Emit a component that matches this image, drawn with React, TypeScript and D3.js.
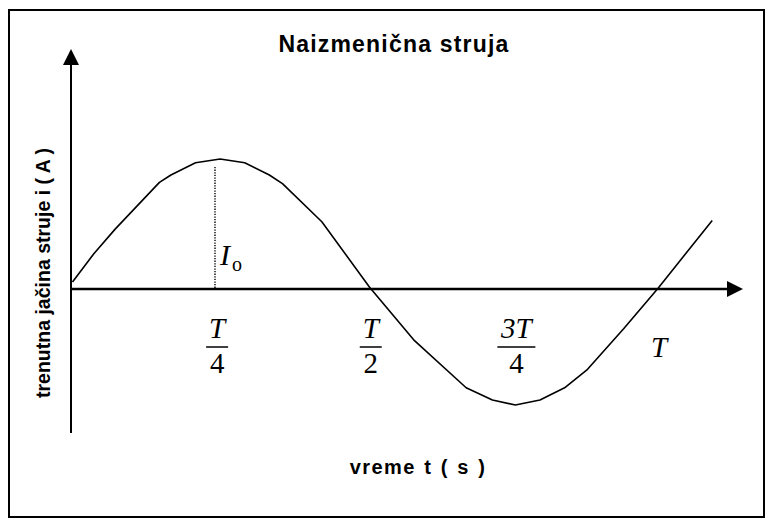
import React from 'react';
import * as d3 from 'd3';

// phase of the current (degrees) and the value, in units of I0
const phaseDeg = [0, 13, 26, 53, 60, 75, 90, 105, 120, 128, 152, 181, 208, 240, 256, 270, 285, 300, 314, 336, 357, 390];
const current = [0, 0.23, 0.43, 0.81, 0.87, 0.97, 1.0, 0.97, 0.87, 0.8, 0.49, -0.04, -0.47, -0.86, -0.96, -1.0, -0.96, -0.86, -0.71, -0.38, -0.05, 0.5];

// tick labels under the time axis (numerator / denominator)
const tickPhase = [90, 180, 270, 360];
const tickNum = ['T', 'T', '3T', 'T'];
const tickDen = ['4', '2', '4', ''];

const title = 'Naizmenična struja';
const xTitle = 'vreme t ( s )';
const yTitle = 'trenutna jačina struje i ( A )';

const W = 773;
const H = 527;
const sans = '"Liberation Sans", Arial, sans-serif';
const serif = '"Liberation Serif", "Times New Roman", serif';

const App = () => {
  const x = d3.scaleLinear().domain([0, 360]).range([72.5, 663]);
  const y = d3.scaleLinear().domain([-1, 1]).range([405, 159]);

  const line = d3
    .line<number>()
    .x((d, i) => x(phaseDeg[i]))
    .y((d) => y(d));

  const axisY = 289;
  const axisX = 71;

  return (
    <svg width={W} height={H} style={{ position: 'absolute', left: 0, top: 0, background: '#fff' }}>
      {/* chart frame */}
      <rect x={9} y={10} width={755} height={507} fill="none" stroke="#000" strokeWidth={2} />

      <text x={394} y={52} textAnchor="middle" fontFamily={sans} fontWeight="bold" fontSize={23} letterSpacing={1.2}>
        {title}
      </text>

      {/* axes with arrows */}
      <line x1={axisX} y1={433} x2={axisX} y2={62} stroke="#000" strokeWidth={2} />
      <path d={`M${axisX - 8},${65} L${axisX},${49} L${axisX + 8},${65} Z`} fill="#000" />
      <line x1={axisX} y1={axisY} x2={730} y2={axisY} stroke="#000" strokeWidth={2.5} />
      <path d={`M${727},${axisY - 8} L${743},${axisY} L${727},${axisY + 8} Z`} fill="#000" />

      {/* amplitude marker */}
      <line
        x1={215}
        y1={167}
        x2={215}
        y2={axisY}
        stroke="#000"
        strokeWidth={1.4}
        strokeDasharray="1.3,1.3"
      />
      <text x={220} y={265} fontFamily={serif} fontStyle="italic" fontSize={30}>
        I
      </text>
      <text x={232} y={271} fontFamily={serif} fontSize={20}>
        o
      </text>

      <path d={line(current) || ''} fill="none" stroke="#000" strokeWidth={1.6} strokeLinejoin="round" />

      {/* fraction tick labels */}
      {tickPhase.map((p, i) => {
        const cx = x(p) - (i === 0 ? 3 : i === 1 ? -3 : i === 3 ? 4 : -1);
        if (!tickDen[i]) {
          return (
            <text key={i} x={cx} y={357} textAnchor="middle" fontFamily={serif} fontStyle="italic" fontSize={29}>
              {tickNum[i]}
            </text>
          );
        }
        const half = tickNum[i].length > 1 ? 19 : 11;
        return (
          <g key={i}>
            <text x={cx} y={338} textAnchor="middle" fontFamily={serif} fontStyle="italic" fontSize={29}>
              {tickNum[i]}
            </text>
            <line x1={cx - half} y1={347} x2={cx + half} y2={347} stroke="#000" strokeWidth={1.5} />
            <text x={cx} y={373} textAnchor="middle" fontFamily={serif} fontSize={29}>
              {tickDen[i]}
            </text>
          </g>
        );
      })}

      <text
        x={418}
        y={474}
        textAnchor="middle"
        fontFamily={sans}
        fontWeight="bold"
        fontSize={20}
        letterSpacing={1.4}
        wordSpacing={1.5}
      >
        {xTitle}
      </text>
      <text
        transform={`translate(50,273) rotate(-90)`}
        textAnchor="middle"
        fontFamily={sans}
        fontWeight="bold"
        fontSize={19.5}
      >
        {yTitle}
      </text>
    </svg>
  );
};

export default App;
